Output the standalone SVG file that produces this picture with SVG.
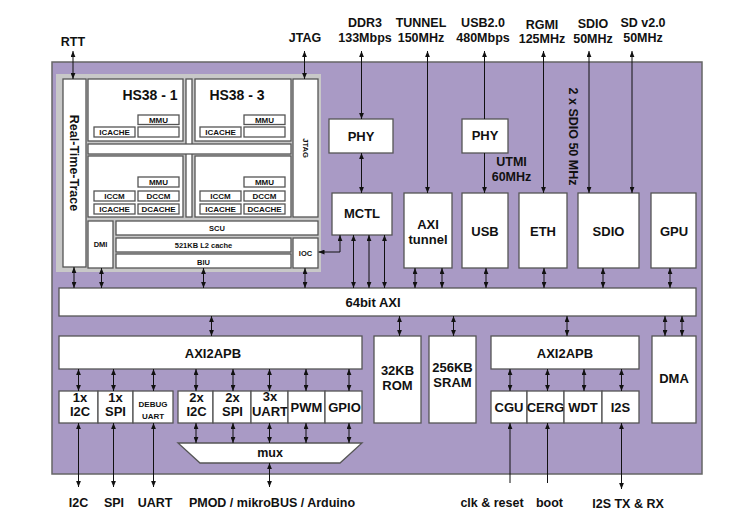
<svg xmlns="http://www.w3.org/2000/svg" width="750" height="524" viewBox="0 0 750 524">
<defs>
<marker id="ah" viewBox="0 0 10 8" refX="10" refY="4" markerWidth="6" markerHeight="5" markerUnits="userSpaceOnUse" orient="auto-start-reverse"><path d="M0,0 L10,4 L0,8 z" fill="#111"/></marker>
<style>
.bx{fill:#fff;stroke:#555;stroke-width:1.3}
.t{font-family:"Liberation Sans",Arial,sans-serif;font-weight:bold;fill:#111;text-anchor:middle}
.s7{font-size:7.5px}.s8{font-size:8px}.s11{font-size:11.5px}.s12{font-size:12.5px}.s13{font-size:13px}.s14{font-size:14px}
.c line,.c path{stroke:#111;stroke-width:1;fill:none}
.bd{marker-start:url(#ah);marker-end:url(#ah)}
.e{marker-end:url(#ah)}
.st{marker-start:url(#ah)}
</style>
</defs>
<rect x="0" y="0" width="750" height="524" fill="#fff"/>
<g id="chip"><rect x="52" y="62" width="650" height="412" fill="#a99ac5" stroke="#666" stroke-width="1.5"/></g>
<g id="cluster"><rect x="56" y="74" width="265" height="198" fill="#c8c8c8"/></g>
<g id="rtt-box"><rect class="bx" x="63" y="79" width="23" height="188"/><text class="t s12" transform="translate(74.5,163) rotate(90)" y="4.5">Real-Time-Trace</text></g>
<g id="hs38-1"><rect class="bx" x="88" y="79" width="95" height="62"/><text class="t s14" x="150" y="100">HS38 - 1</text>
<rect class="bx" x="138" y="115" width="41" height="9.5"/><text class="t s8" x="158.5" y="122.8">MMU</text>
<rect class="bx" x="138" y="127" width="41" height="10"/>
<rect class="bx" x="94" y="127" width="41" height="10"/><text class="t s8" x="114.5" y="135.2">ICACHE</text></g>
<g id="vbar"><rect class="bx" x="186" y="79" width="6" height="138"/></g>
<g id="hbar"><rect class="bx" x="88" y="144" width="203" height="10"/></g>
<g id="hs38-3"><rect class="bx" x="195" y="79" width="96" height="62"/><text class="t s14" x="237" y="100">HS38 - 3</text>
<rect class="bx" x="244" y="115" width="41" height="9.5"/><text class="t s8" x="264.5" y="122.8">MMU</text>
<rect class="bx" x="244" y="127" width="41" height="10"/>
<rect class="bx" x="200" y="127" width="41" height="10"/><text class="t s8" x="220.5" y="135.2">ICACHE</text></g>
<g id="hs38-2"><rect class="bx" x="88" y="156" width="95" height="61"/>
<rect class="bx" x="138" y="177" width="41" height="10"/><text class="t s8" x="158.5" y="185.2">MMU</text>
<rect class="bx" x="94" y="191" width="41" height="10"/><text class="t s8" x="114.5" y="199.2">ICCM</text>
<rect class="bx" x="138" y="191" width="41" height="10"/><text class="t s8" x="158.5" y="199.2">DCCM</text>
<rect class="bx" x="94" y="204" width="41" height="10"/><text class="t s8" x="114.5" y="212.2">ICACHE</text>
<rect class="bx" x="138" y="204" width="41" height="10"/><text class="t s8" x="158.5" y="212.2">DCACHE</text></g>
<g id="hs38-4"><rect class="bx" x="195" y="156" width="96" height="61"/>
<rect class="bx" x="244" y="177" width="41" height="10"/><text class="t s8" x="264.5" y="185.2">MMU</text>
<rect class="bx" x="200" y="191" width="41" height="10"/><text class="t s8" x="220.5" y="199.2">ICCM</text>
<rect class="bx" x="244" y="191" width="41" height="10"/><text class="t s8" x="264.5" y="199.2">DCCM</text>
<rect class="bx" x="200" y="204" width="41" height="10"/><text class="t s8" x="220.5" y="212.2">ICACHE</text>
<rect class="bx" x="244" y="204" width="41" height="10"/><text class="t s8" x="264.5" y="212.2">DCACHE</text></g>
<g id="jtag-box"><rect class="bx" x="293" y="79" width="25" height="138"/><text class="t s7" transform="translate(305.5,148) rotate(90)" y="2.7">JTAG</text></g>
<g id="dmi"><rect class="bx" x="88" y="221" width="25" height="47"/><text class="t s7" x="100.5" y="247">DMI</text></g>
<g id="scu"><rect class="bx" x="116" y="221" width="202" height="14"/><text class="t s7" x="217" y="231">SCU</text></g>
<g id="l2"><rect class="bx" x="116" y="238" width="175" height="14"/><text class="t s7" x="203.5" y="248">521KB L2 cache</text></g>
<g id="biu"><rect class="bx" x="116" y="254" width="175" height="14"/><text class="t s7" x="203.5" y="264.5">BIU</text></g>
<g id="ioc"><rect class="bx" x="293" y="238" width="25" height="30"/><text class="t s7" x="305.5" y="256">IOC</text></g>
<g id="phy-ddr"><rect class="bx" x="329" y="119" width="64" height="34"/><text class="t s13" x="361" y="141">PHY</text></g>
<g id="mctl"><rect class="bx" x="332" y="193" width="60" height="42"/><text class="t s13" x="362" y="218">MCTL</text></g>
<g id="axi-tunnel"><rect class="bx" x="404" y="193" width="48" height="75"/><text class="t s13" x="428" y="229">AXI</text><text class="t s13" x="428" y="243.5">tunnel</text></g>
<g id="phy-usb"><rect class="bx" x="462" y="119" width="46" height="34"/><text class="t s13" x="485" y="140">PHY</text></g>
<g id="usb"><rect class="bx" x="462" y="193" width="46" height="75"/><text class="t s13" x="485" y="236">USB</text></g>
<g id="eth"><rect class="bx" x="519" y="193" width="48" height="75"/><text class="t s13" x="543" y="236">ETH</text></g>
<g id="sdio"><rect class="bx" x="578" y="193" width="61" height="75"/><text class="t s13" x="608.5" y="236">SDIO</text></g>
<g id="gpu"><rect class="bx" x="651" y="193" width="45" height="75"/><text class="t s13" x="674" y="236">GPU</text></g>
<g id="axi64"><rect class="bx" x="59" y="288" width="637" height="28"/><text class="t s13" x="373" y="307">64bit AXI</text></g>
<g id="axi2apb-l"><rect class="bx" x="59" y="336" width="303" height="33"/><text class="t s13" x="213" y="358">AXI2APB</text></g>
<g id="rom"><rect class="bx" x="374" y="336" width="47" height="87"/><text class="t s13" x="397.5" y="375">32KB</text><text class="t s13" x="397.5" y="390">ROM</text></g>
<g id="sram"><rect class="bx" x="429" y="336" width="47" height="87"/><text class="t s13" x="452.5" y="372">256KB</text><text class="t s13" x="452.5" y="387">SRAM</text></g>
<g id="axi2apb-r"><rect class="bx" x="491" y="336" width="148" height="33"/><text class="t s13" x="565" y="358">AXI2APB</text></g>
<g id="dma"><rect class="bx" x="652" y="336" width="44" height="87"/><text class="t s13" x="674" y="383">DMA</text></g>
<g id="i2c1"><rect class="bx" x="59" y="391" width="39" height="32"/><text class="t s13" x="80" y="402">1x</text><text class="t s13" x="80" y="416">I2C</text></g>
<g id="spi1"><rect class="bx" x="98" y="391" width="35" height="32"/><text class="t s13" x="115.5" y="402">1x</text><text class="t s13" x="115.5" y="416">SPI</text></g>
<g id="dbguart"><rect class="bx" x="133" y="391" width="40" height="32"/><text class="t s8" x="153" y="407">DEBUG</text><text class="t s8" x="153" y="418.5">UART</text></g>
<g id="i2c2"><rect class="bx" x="178" y="391" width="35" height="32"/><text class="t s13" x="196.5" y="402">2x</text><text class="t s13" x="196.5" y="416">I2C</text></g>
<g id="spi2"><rect class="bx" x="213" y="391" width="38" height="32"/><text class="t s13" x="232.5" y="402">2x</text><text class="t s13" x="232.5" y="416">SPI</text></g>
<g id="uart3"><rect class="bx" x="251" y="391" width="37" height="32"/><text class="t s13" x="270" y="401">3x</text><text class="t s13" x="270" y="416">UART</text></g>
<g id="pwm"><rect class="bx" x="288" y="391" width="37" height="32"/><text class="t s13" x="306.5" y="412">PWM</text></g>
<g id="gpio"><rect class="bx" x="325" y="391" width="37" height="32"/><text class="t s13" x="344.5" y="412">GPIO</text></g>
<g id="mux"><polygon class="bx" points="178,443 362,443 340,463 200,463"/><text class="t s12" x="270" y="457">mux</text></g>
<g id="cgu"><rect class="bx" x="491" y="391" width="36" height="32"/><text class="t s13" x="509" y="412">CGU</text></g>
<g id="cerg"><rect class="bx" x="527" y="391" width="37" height="32"/><text class="t s13" x="545.5" y="412">CERG</text></g>
<g id="wdt"><rect class="bx" x="564" y="391" width="38" height="32"/><text class="t s13" x="583" y="412">WDT</text></g>
<g id="i2s"><rect class="bx" x="602" y="391" width="37" height="32"/><text class="t s13" x="620.5" y="412">I2S</text></g>
<g id="labels">
<text class="t s12" x="73" y="46">RTT</text>
<text class="t s12" x="305" y="42">JTAG</text>
<text class="t s12" x="365" y="27">DDR3</text><text class="t s12" x="365" y="42">133Mbps</text>
<text class="t s12" x="421" y="27">TUNNEL</text><text class="t s12" x="421" y="42">150MHz</text>
<text class="t s12" x="483" y="27">USB2.0</text><text class="t s12" x="483" y="42">480Mbps</text>
<text class="t s12" x="542" y="29">RGMI</text><text class="t s12" x="542" y="43">125MHz</text>
<text class="t s12" x="593" y="28">SDIO</text><text class="t s12" x="593" y="43">50MHz</text>
<text class="t s12" x="643" y="27">SD v2.0</text><text class="t s12" x="643" y="42">50MHz</text>
<text class="t s12" x="511.5" y="166">UTMI</text><text class="t s12" x="511.5" y="181">60MHz</text>
<text class="t s12" transform="translate(573.5,136.5) rotate(90)" y="4.3">2 x SDIO 50 MHz</text>
<text class="t s12" x="78.5" y="507">I2C</text>
<text class="t s12" x="114" y="507">SPI</text>
<text class="t s12" x="155" y="507">UART</text>
<text class="t s12" x="272" y="507">PMOD / mikroBUS / Arduino</text>
<text class="t s12" x="492" y="507">clk &amp; reset</text>
<text class="t s12" x="549.5" y="507">boot</text>
<text class="t s12" x="628" y="508">I2S TX &amp; RX</text>
</g>
<g id="connectors" class="c">
<line class="bd" x1="73" y1="51" x2="73" y2="79"/>
<line class="bd" x1="304.5" y1="51" x2="304.5" y2="79"/>
<line class="bd" x1="361.5" y1="51" x2="361.5" y2="119"/>
<line class="bd" x1="427.5" y1="51" x2="427.5" y2="193"/>
<line class="st" x1="484.5" y1="51" x2="484.5" y2="119"/>
<line class="e" x1="484.5" y1="153" x2="484.5" y2="193"/>
<line class="bd" x1="543.5" y1="51" x2="543.5" y2="193"/>
<line class="bd" x1="589" y1="51" x2="589" y2="193"/>
<line class="bd" x1="632" y1="51" x2="632" y2="193"/>
<line class="bd" x1="361.5" y1="153" x2="361.5" y2="193"/>
<path class="bd" d="M340,235 L340,252 L318.5,252"/>
<line class="bd" x1="353.5" y1="235" x2="353.5" y2="288"/>
<line class="bd" x1="369" y1="235" x2="369" y2="288"/>
<line class="bd" x1="384.5" y1="235" x2="384.5" y2="288"/>
<line class="bd" x1="74" y1="267" x2="74" y2="288"/>
<line class="bd" x1="101.5" y1="268" x2="101.5" y2="288"/>
<line class="bd" x1="203.5" y1="268" x2="203.5" y2="288"/>
<line class="bd" x1="305" y1="268" x2="305" y2="288"/>
<line class="bd" x1="415" y1="268" x2="415" y2="288"/>
<line class="bd" x1="442" y1="268" x2="442" y2="288"/>
<line class="bd" x1="486" y1="268" x2="486" y2="288"/>
<line class="bd" x1="544" y1="268" x2="544" y2="288"/>
<line class="bd" x1="603" y1="268" x2="603" y2="288"/>
<line class="bd" x1="670" y1="268" x2="670" y2="288"/>
<line class="bd" x1="211.5" y1="316" x2="211.5" y2="336"/>
<line class="bd" x1="399.5" y1="316" x2="399.5" y2="336"/>
<line class="bd" x1="453.5" y1="316" x2="453.5" y2="336"/>
<line class="bd" x1="567" y1="316" x2="567" y2="336"/>
<line class="bd" x1="665" y1="316" x2="665" y2="336"/>
<line class="bd" x1="682" y1="316" x2="682" y2="336"/>
<line class="bd" x1="78.5" y1="369" x2="78.5" y2="391"/>
<line class="bd" x1="113.5" y1="369" x2="113.5" y2="391"/>
<line class="bd" x1="153.5" y1="369" x2="153.5" y2="391"/>
<line class="bd" x1="196" y1="369" x2="196" y2="391"/>
<line class="bd" x1="233" y1="369" x2="233" y2="391"/>
<line class="bd" x1="269.5" y1="369" x2="269.5" y2="391"/>
<line class="bd" x1="306" y1="369" x2="306" y2="391"/>
<line class="bd" x1="349" y1="369" x2="349" y2="391"/>
<line class="bd" x1="196" y1="423" x2="196" y2="443"/>
<line class="bd" x1="233" y1="423" x2="233" y2="443"/>
<line class="bd" x1="269.5" y1="423" x2="269.5" y2="443"/>
<line class="bd" x1="306" y1="423" x2="306" y2="443"/>
<line class="bd" x1="349" y1="423" x2="349" y2="443"/>
<line class="bd" x1="269.5" y1="463" x2="269.5" y2="487"/>
<line class="bd" x1="78.5" y1="423" x2="78.5" y2="487"/>
<line class="bd" x1="113.5" y1="423" x2="113.5" y2="487"/>
<line class="bd" x1="153.5" y1="423" x2="153.5" y2="487"/>
<line class="bd" x1="510" y1="369" x2="510" y2="391"/>
<line class="bd" x1="547.5" y1="369" x2="547.5" y2="391"/>
<line class="bd" x1="584" y1="369" x2="584" y2="391"/>
<line class="bd" x1="621.5" y1="369" x2="621.5" y2="391"/>
<line class="e" x1="510" y1="483" x2="510" y2="423"/>
<line class="e" x1="547.5" y1="483" x2="547.5" y2="423"/>
<line class="bd" x1="621.5" y1="423" x2="621.5" y2="489"/>
</g>
</svg>
